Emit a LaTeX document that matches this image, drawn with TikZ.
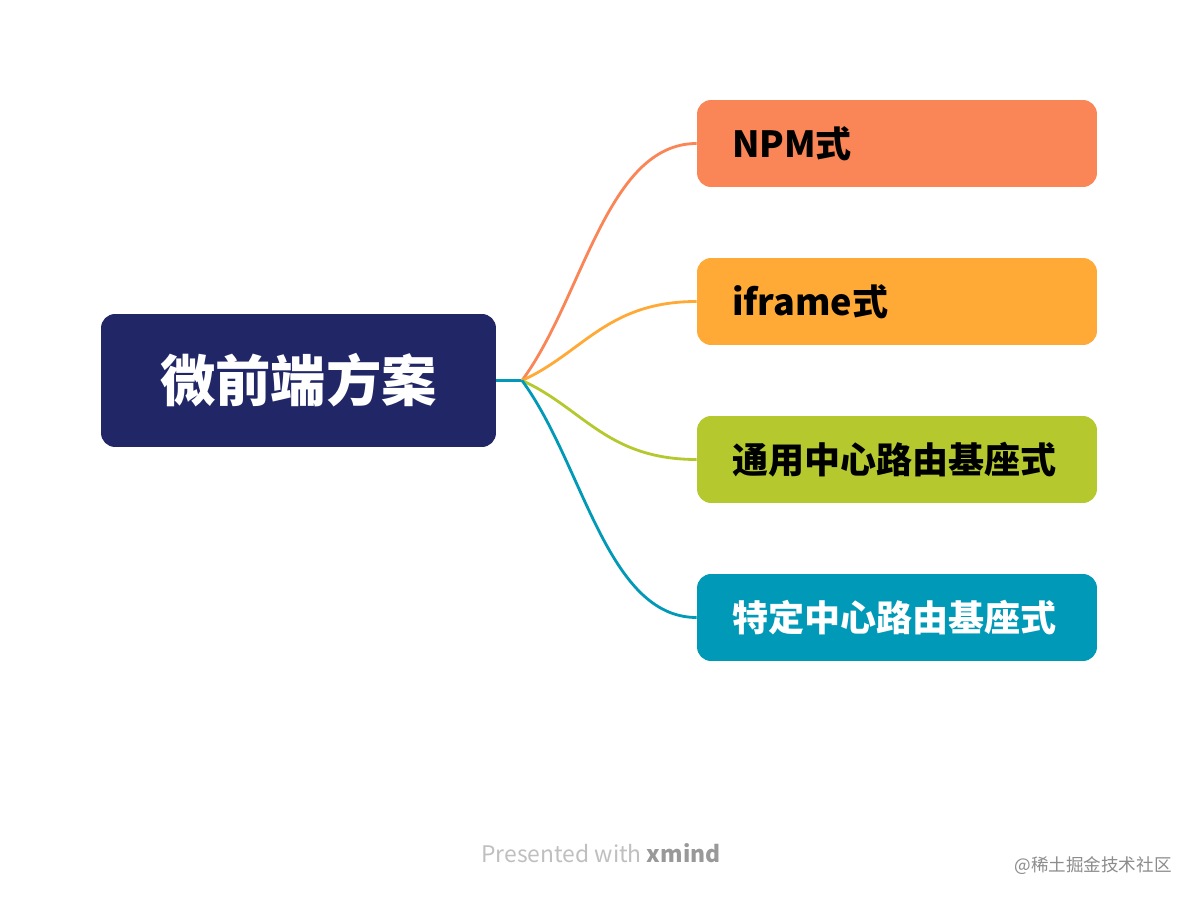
\documentclass[tikz,border=0pt]{standalone}
\usepackage{fontspec}
\setmainfont{Noto Sans CJK SC}
\usetikzlibrary{positioning,calc}
\definecolor{rootblue}{HTML}{212766}
\definecolor{topicorange}{HTML}{FA8556}
\definecolor{topicyellow}{HTML}{FFAA36}
\definecolor{topicgreen}{HTML}{B5C92E}
\definecolor{topicteal}{HTML}{0099B8}
\tikzset{
    rootbox/.style={fill=rootblue, rounded corners=8pt, minimum width=7.9cm,
        minimum height=2.66cm, text=white, font=\fontsize{31.5}{35}\selectfont\bfseries},
    topicbox/.style={rounded corners=8pt, minimum width=8cm, minimum height=1.74cm,
        text width=6.6cm, align=left, font=\fontsize{20.5}{24}\selectfont\bfseries},
    branch/.style={line width=1.6pt},
}
\begin{document}
\begin{tikzpicture}[x=0.02cm, y=-0.02cm]
    \useasboundingbox[fill=white] (0,0) rectangle (1198,902);
    \node[rootbox] (root) at (298.5,380.5) {微前端方案};
    \coordinate (hub) at (522,380.5);
    \draw[branch, topicteal] (root.east) -- (hub);
    \node[topicbox, fill=topicorange] (npm) at (897,143.5) {NPM式};
    \node[topicbox, fill=topicyellow] (iframe) at (897,301.5) {iframe式};
    \node[topicbox, fill=topicgreen] (general) at (897,459.5) {通用中心路由基座式};
    \node[topicbox, fill=topicteal, text=white] (specific) at (897,617.5) {特定中心路由基座式};
    % branches
    \foreach \t/\c in {npm/topicorange, iframe/topicyellow, general/topicgreen, specific/topicteal}
        \draw[branch, \c] (hub) .. controls ($(hub)!0.35!(\t.west)$) and ($(\t.west)+(-90,0)$) .. (\t.west);
    \node[text=black!25, font=\fontsize{13}{15}\selectfont] (credit) at (601,853)
        {Presented with \textbf{\color{black!40}xmind}};
    \node[text=black!45, font=\fontsize{10}{12}\selectfont] (mark) at (1093,866) {@稀土掘金技术社区};
\end{tikzpicture}
\end{document}
